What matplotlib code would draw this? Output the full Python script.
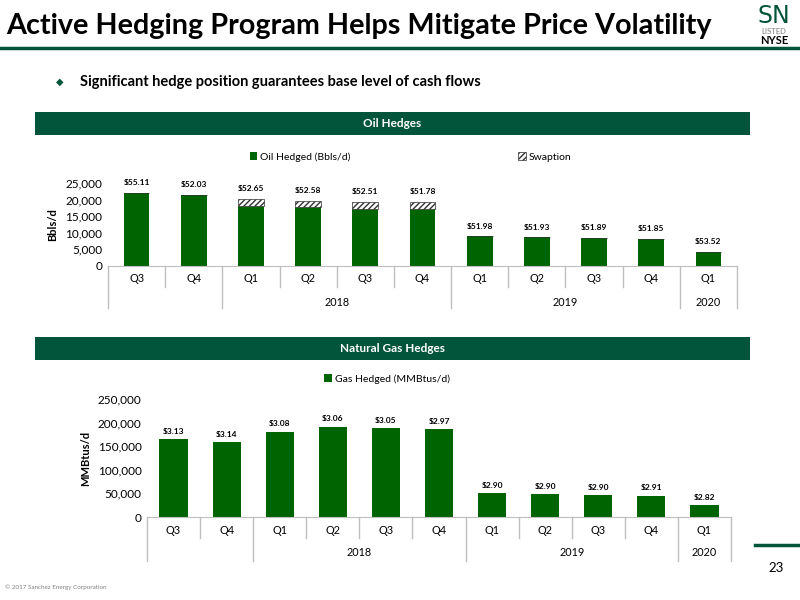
import matplotlib.pyplot as plt
from matplotlib.patches import Rectangle
from matplotlib.transforms import blended_transform_factory

plt.rcParams['font.family'] = ['Lato', 'DejaVu Sans']

# data
quarters = ['Q3', 'Q4', 'Q1', 'Q2', 'Q3', 'Q4', 'Q1', 'Q2', 'Q3', 'Q4', 'Q1']
years = ['', '2018', '2019', '2020']
year_span = [2, 4, 4, 1]

oil_hedged = [22000, 21500, 18000, 17700, 17300, 17100, 8900, 8600, 8400, 8200, 4200]
swaption = [0, 0, 2200, 2000, 2100, 2100, 0, 0, 0, 0, 0]
oil_price = ['$55.11', '$52.03', '$52.65', '$52.58', '$52.51', '$51.78',
             '$51.98', '$51.93', '$51.89', '$51.85', '$53.52']

gas_hedged = [166000, 158000, 181000, 191500, 189000, 187000, 50000, 48500, 47000, 45500, 25000]
gas_price = ['$3.13', '$3.14', '$3.08', '$3.06', '$3.05', '$2.97',
             '$2.90', '$2.90', '$2.90', '$2.91', '$2.82']

W, H = 800, 600
BAR = '#006400'
DARK = '#02553A'
GRID = '#BFBFBF'

fig = plt.figure(figsize=(8, 6), dpi=100)


def px_axes(x0, y0, x1, y1):
    # pixel box (top-left origin) -> figure axes
    return fig.add_axes([x0 / W, 1 - y1 / H, (x1 - x0) / W, (y1 - y0) / H])


def fx(x):
    return x / W


def fy(y):
    return 1 - y / H


# header
fig.text(fx(6), fy(26), 'Active Hedging Program Helps Mitigate Price Volatility',
         fontsize=20.7, fontweight='bold', va='center', ha='left', color='black')
fig.add_artist(plt.Line2D([0, 1], [fy(48), fy(48)], color=DARK, lw=2.5))
fig.text(fx(774), fy(16), 'SN', fontsize=17, color=DARK, ha='center', va='center',
         family=['Liberation Sans Narrow', 'DejaVu Sans'])
fig.text(fx(774), fy(31), 'LISTED', fontsize=5.5, color='#9A9A9A', ha='center', va='center',
         fontweight='bold')
fig.text(fx(774), fy(41), 'NYSE', fontsize=8, color='black', ha='center', va='center',
         fontweight='bold')

fig.text(fx(60), fy(82), '\u25C6', fontsize=7, color=DARK, ha='center', va='center',
         family=['DejaVu Sans'])
fig.text(fx(80), fy(82), 'Significant hedge position guarantees base level of cash flows',
         fontsize=10.5, fontweight='bold', va='center', ha='left')

# banners
for y0, y1, txt in [(112, 135, 'Oil Hedges'), (337, 360, 'Natural Gas Hedges')]:
    fig.add_artist(Rectangle((fx(35), fy(y1)), fx(750) - fx(35), fy(y0) - fy(y1),
                             facecolor=DARK, edgecolor='none'))
    fig.text(fx(392), fy((y0 + y1) / 2), txt, color='white', fontsize=8.5,
             fontweight='bold', ha='center', va='center')


def category_axis(ax, qy, yy, qline, yline):
    x = list(range(len(quarters)))
    ax.set_xlim(-0.5, len(quarters) - 0.5)
    ax.set_xticks(x)
    ax.set_xticklabels([])
    ax.tick_params(axis='x', length=0)
    ax.tick_params(axis='y', length=0, labelsize=8.5, pad=4)
    for s in ['top', 'right', 'left']:
        ax.spines[s].set_visible(False)
    ax.spines['bottom'].set_color(GRID)
    tr = blended_transform_factory(ax.transData, ax.transAxes)
    for i, q in enumerate(quarters):
        ax.text(i, qy, q, transform=tr, ha='center', va='center', fontsize=7.8)
    # separators
    bounds = [-0.5]
    for n in year_span:
        bounds.append(bounds[-1] + n)
    for b in [i - 0.5 for i in range(len(quarters) + 1)]:
        full = b in bounds
        ax.plot([b, b], [0, yline if full else qline], transform=tr, color=GRID,
                lw=1, clip_on=False)
    for k, yr in enumerate(years):
        ax.text((bounds[k] + bounds[k + 1]) / 2, yy, yr, transform=tr,
                ha='center', va='center', fontsize=7.8)


# oil chart
ax1 = px_axes(108, 183, 737, 266)
x = range(len(quarters))
b1 = ax1.bar(x, oil_hedged, width=0.45, color=BAR, label='Oil Hedged (Bbls/d)')
b2 = ax1.bar(x, swaption, width=0.45, bottom=oil_hedged, color='white',
             edgecolor='#333333', hatch='//////', lw=0.5, label='Swaption')
ax1.set_ylim(0, 25000)
ax1.set_yticks(range(0, 25001, 5000))
ax1.set_yticklabels(['{:,}'.format(v) for v in range(0, 25001, 5000)])
ax1.set_ylabel('Bbls/d', fontsize=8, fontweight='bold', labelpad=5)
for i, (v, s, p) in enumerate(zip(oil_hedged, swaption, oil_price)):
    ax1.annotate(p, (i, v + s), xytext=(0, 7.5), textcoords='offset points',
                 ha='center', va='center', fontsize=6, fontweight='bold')
category_axis(ax1, -13 / 83, -36 / 83, -21 / 83, -42 / 83)
fig.legend(handles=[b1], loc='center', bbox_to_anchor=(fx(300), fy(157)),
           frameon=False, fontsize=7.5, handlelength=0.7, handleheight=0.7,
           handletextpad=0.3)
fig.legend(handles=[b2], loc='center', bbox_to_anchor=(fx(545), fy(157)),
           frameon=False, fontsize=7.5, handlelength=0.7, handleheight=0.7,
           handletextpad=0.3)

# gas chart
ax2 = px_axes(147, 399, 731, 517)
b3 = ax2.bar(x, gas_hedged, width=0.53, color=BAR, label='Gas Hedged (MMBtus/d)')
ax2.set_ylim(0, 250000)
ax2.set_yticks(range(0, 250001, 50000))
ax2.set_yticklabels(['{:,}'.format(v) for v in range(0, 250001, 50000)])
ax2.set_ylabel('MMBtus/d', fontsize=8, fontweight='bold', labelpad=5)
for i, (v, p) in enumerate(zip(gas_hedged, gas_price)):
    ax2.annotate(p, (i, v), xytext=(0, 5.5), textcoords='offset points',
                 ha='center', va='center', fontsize=6, fontweight='bold')
category_axis(ax2, -13 / 118, -36 / 118, -21 / 118, -44 / 118)
fig.legend(handles=[b3], loc='center', bbox_to_anchor=(fx(387), fy(379)),
           frameon=False, fontsize=7.5, handlelength=0.7, handleheight=0.7,
           handletextpad=0.3)

# footer
fig.add_artist(plt.Line2D([fx(755), 1], [fy(545), fy(545)], color=DARK, lw=2.5))
fig.text(fx(776), fy(568), '23', fontsize=9.5, ha='center', va='center')
fig.text(fx(5), fy(587), '\u00A9 2017 Sanchez Energy Corporation', fontsize=4.5,
         color='#808080', ha='left', va='center')

fig.savefig('out.png', dpi=100)
